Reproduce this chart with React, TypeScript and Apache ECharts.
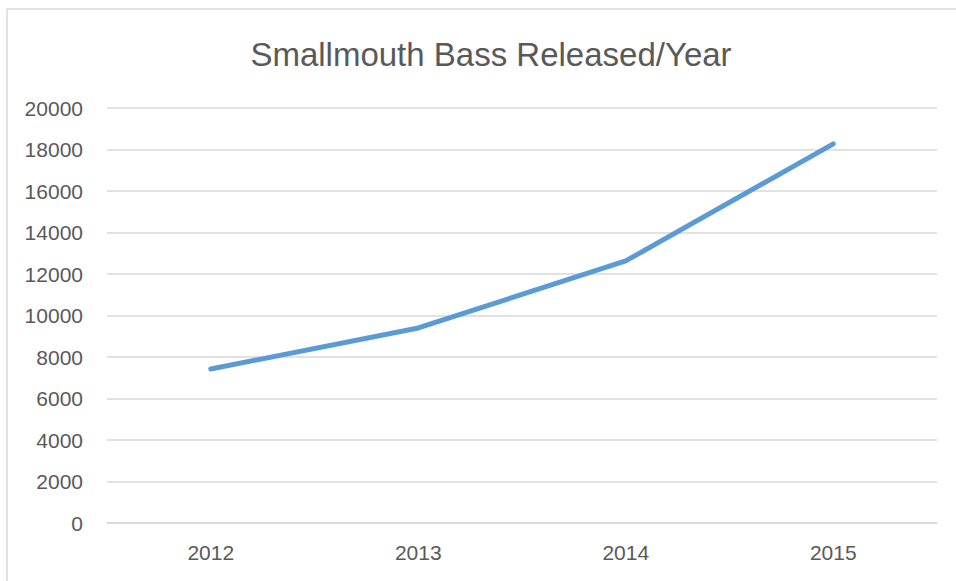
import React, { useEffect, useRef } from "react";
import * as echarts from "echarts";

const categories = ["2012", "2013", "2014", "2015"];
const released = [7420, 9400, 12630, 18270];
const titleText = "Smallmouth Bass Released/Year";

export default function App() {
  const ref = useRef<HTMLDivElement>(null);
  useEffect(() => {
    document.body.style.margin = "0";
    document.body.style.overflow = "hidden";
    document.documentElement.style.overflow = "hidden";
    const chart = echarts.init(ref.current!, undefined, { renderer: "svg" });
    chart.setOption({
      animation: false,
      backgroundColor: "#ffffff",
      graphic: [
        {
          type: "line",
          shape: { x1: 7, y1: 9, x2: 7, y2: 600 },
          style: { stroke: "#d9d9d9", lineWidth: 1.5 },
        },
        {
          type: "line",
          shape: { x1: 7, y1: 9, x2: 960, y2: 9 },
          style: { stroke: "#d9d9d9", lineWidth: 1.5 },
        },
      ],
      title: {
        text: titleText,
        left: 486,
        textAlign: "center",
        top: 33,
        textStyle: {
          fontFamily: "Liberation Sans",
          fontSize: 33,
          fontWeight: "normal",
          color: "#595959",
        },
      },
      grid: { left: 107, right: 19, top: 108, bottom: 58, containLabel: false },
      xAxis: {
        type: "category",
        data: categories,
        boundaryGap: true,
        axisLine: { show: true, lineStyle: { color: "#d9d9d9", width: 1.5 } },
        axisTick: { show: false },
        axisLabel: {
          margin: 19,
          color: "#595959",
          fontFamily: "Liberation Sans",
          fontSize: 21,
        },
      },
      yAxis: {
        type: "value",
        min: 0,
        max: 20000,
        interval: 2000,
        axisLine: { show: false },
        axisTick: { show: false },
        splitLine: { lineStyle: { color: "#d9d9d9", width: 1.5 } },
        axisLabel: {
          margin: 24,
          color: "#595959",
          fontFamily: "Liberation Sans",
          fontSize: 21,
          formatter: (v: number) => String(v),
        },
      },
      series: [
        {
          type: "line",
          data: released,
          showSymbol: false,
          symbol: "none",
          lineStyle: { color: "#5b9bd5", width: 5, cap: "round", join: "round" },
        },
      ],
    });
    return () => chart.dispose();
  }, []);
  return <div ref={ref} style={{ width: 956, height: 581 }} />;
}
